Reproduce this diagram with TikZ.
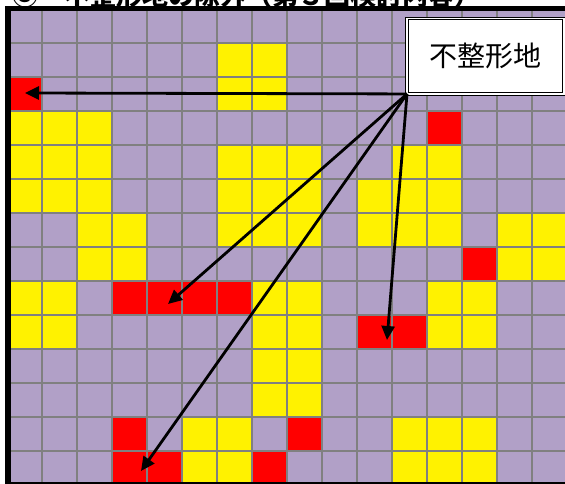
\documentclass[tikz,border=0pt]{standalone}
\usepackage{fontspec}
\newfontfamily\jpfont{Noto Sans CJK JP}
\usetikzlibrary{arrows.meta}

\definecolor{lotpurple}{RGB}{177,160,199}
\definecolor{lotgray}{RGB}{128,128,128}

\tikzset{
  yellowcell/.style={fill=yellow},
  redcell/.style={fill=red},
  gridline/.style={draw=lotgray,line width=2.7pt},
  frameline/.style={draw=black,line width=5.5pt},
  labelbox/.style={draw=black,double=white,line width=0.8pt,double distance=1.6pt,
    fill=white,minimum width=156.8pt,minimum height=75.3pt,inner sep=0pt,outer sep=0pt,
    font=\jpfont\fontsize{28}{34}\selectfont},
  pointer/.style={-{Triangle[length=14pt,width=13pt]},line width=2.8pt},
}

\begin{document}
\begin{tikzpicture}[x=1pt,y=-1pt]
        % Definition
        \pgfmathsetmacro{\cellw}{35}
        \pgfmathsetmacro{\cellh}{34}
        \useasboundingbox (0,0) rectangle (565,484);

        % Title
        \node[anchor=base west,inner sep=0pt,font=\jpfont\bfseries\fontsize{26}{30}\selectfont] (title) at (12,5.5) {③　不整形地の除外（第３回検討内容）};

        % Draw the lots
        \fill[lotpurple] (7,9) rectangle (567,485);
        \foreach \r/\cols in {1/{6,7},2/{6,7},3/{0,1,2},4/{0,1,2,6,7,8,11,12},
            5/{0,1,2,6,7,8,10,11,12},6/{2,3,6,7,8,10,11,12,14,15},7/{2,3,14,15},
            8/{0,1,7,8,12,13},9/{0,1,7,8,12,13},10/{7,8},11/{7,8},
            12/{5,6,11,12,13},13/{5,6,11,12,13}}
          \foreach \c in \cols
            \fill[yellowcell] ({7+\c*\cellw},{9+\r*\cellh}) rectangle ++(\cellw,\cellh);
        \foreach \r/\cols in {2/{0},3/{12},7/{13},8/{3,4,5,6},9/{10,11},12/{3,8},13/{3,4,7}}
          \foreach \c in \cols
            \fill[redcell] ({7+\c*\cellw},{9+\r*\cellh}) rectangle ++(\cellw,\cellh);

        % Draw the grid and the frame
        \foreach \k in {0,...,15}
          \draw[gridline] ({42+\k*\cellw},9) -- ({42+\k*\cellw},485);
        \foreach \k in {0,...,12}
          \draw[gridline] (7,{43+\k*\cellh}) -- (567,{43+\k*\cellh});
        \draw[frameline] (8,8.5) rectangle (570,485);

        % Label
        \node[labelbox] (fukei) at (485.4,56.3) {不整形地};

        % Pointers to the irregular lots
        \coordinate (lotA) at (25,93);
        \coordinate (lotB) at (168,304);
        \coordinate (lotC) at (141,471);
        \coordinate (lotD) at (387,340);
        \foreach \t in {lotA,lotB,lotC,lotD}
          \draw[pointer] (fukei.south west) -- (\t);
\end{tikzpicture}
\end{document}
